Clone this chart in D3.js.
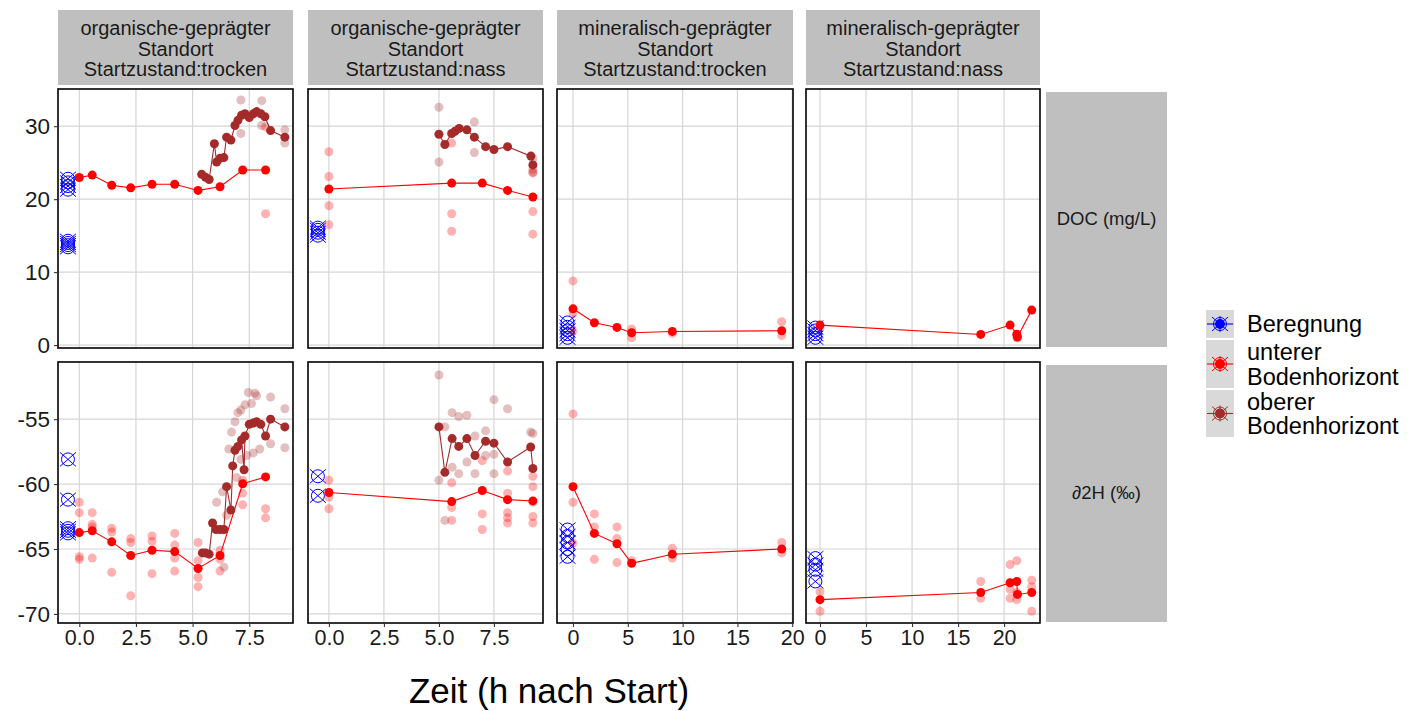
<!DOCTYPE html>
<html>
<head>
<meta charset="utf-8">
<script src="https://cdn.jsdelivr.net/npm/d3@7"></script>
<style>
  html, body { margin: 0; padding: 0; background: #fff; }
  text { font-family: "Liberation Sans", Arial, sans-serif; }
</style>
</head>
<body>
<svg id="chart" width="1421" height="711"></svg>
<script>
// ---------------- DATA ----------------
const facetCols = [
  ["organische-geprägter", "Standort", "Startzustand:trocken"],
  ["organische-geprägter", "Standort", "Startzustand:nass"],
  ["mineralisch-geprägter", "Standort", "Startzustand:trocken"],
  ["mineralisch-geprägter", "Standort", "Startzustand:nass"]
];
const facetRows = ["DOC (mg/L)", "∂2H (‰)"];
const xTickValues = [[0, 2.5, 5, 7.5], [0, 2.5, 5, 7.5], [0, 5, 10, 15, 20], [0, 5, 10, 15, 20]];
const xTickLabels = [["0.0", "2.5", "5.0", "7.5"], ["0.0", "2.5", "5.0", "7.5"], ["0", "5", "10", "15", "20"], ["0", "5", "10", "15", "20"]];
const yTickValues = [[0, 10, 20, 30], [-70, -65, -60, -55]];
const yTickLabels = [["0", "10", "20", "30"], ["-70", "-65", "-60", "-55"]];
const legendLabels = [["Beregnung"], ["unterer", "Bodenhorizont"], ["oberer", "Bodenhorizont"]];
const xTitle = "Zeit (h nach Start)";

// Beregnung (irrigation water) sampled at time -0.5
const beregnungZeit = -0.5;
const beregnungDOC = [
  [21.3, 21.8, 22.3, 22.8, 13.4, 13.7, 14.0, 14.3],
  [15.0, 15.4, 15.8, 16.1],
  [1.0, 1.5, 2.0, 2.5, 3.1],
  [1.0, 1.5, 2.0, 2.4]
];
const beregnungH = [
  [-58.1, -61.2, -63.4, -63.6, -63.8],
  [-59.4, -60.9],
  [-63.5, -64.0, -64.5, -65.0, -65.6],
  [-65.7, -66.2, -66.6, -67.5]
];

// unterer Bodenhorizont: mean series [time, value]
const unterMeanDOC = [
  [[0, 22.97], [0.57, 23.3], [1.43, 21.9], [2.27, 21.55], [3.21, 22.05], [4.21, 22.05], [5.24, 21.2], [6.21, 21.7], [7.21, 24.0], [8.22, 24.0]],
  [[0, 21.4], [5.58, 22.2], [6.97, 22.2], [8.12, 21.2], [9.27, 20.3]],
  [[0, 4.97], [1.95, 3.06], [4.01, 2.42], [5.35, 1.69], [9.06, 1.87], [19.04, 1.97]],
  [[0, 2.74], [17.46, 1.46], [20.65, 2.74], [21.38, 1.5], [21.45, 1.1], [23.0, 4.8]]
];
const unterRawDOC = [
  [[8.22, 18.0], [8.22, 29.9]],
  [[0, 26.5], [0, 23.1], [0, 19.1], [0, 16.5], [5.58, 18.0], [5.58, 15.6], [5.58, 27.7], [9.27, 24.1], [9.27, 23.6], [9.27, 18.3], [9.27, 15.2]],
  [[0, 8.8], [0, 4.3], [0, 1.9], [5.35, 2.2], [5.35, 1.0], [9.06, 1.6], [19.04, 3.2], [19.04, 1.3]],
  [[0, 2.4], [21.4, 1.0], [21.38, 1.3]]
];
const unterMeanH = [
  [[0, -63.74], [0.57, -63.6], [1.43, -64.45], [2.27, -65.5], [3.21, -65.1], [4.21, -65.2], [5.24, -66.5], [6.21, -65.5], [7.21, -59.98], [8.22, -59.45]],
  [[0, -60.65], [5.58, -61.35], [6.97, -60.5], [8.12, -61.2], [9.27, -61.3]],
  [[0, -60.2], [1.95, -63.8], [4.01, -64.6], [5.35, -66.1], [9.06, -65.4], [19.04, -65.0]],
  [[0, -68.9], [17.46, -68.35], [20.65, -67.6], [21.38, -67.5], [21.45, -68.5], [23.0, -68.35]]
];
const unterRawH = [
  [[0, -61.4], [0, -62.2], [0, -65.6], [0, -65.8], [0.57, -62.2], [0.57, -63.1], [0.57, -63.3], [0.57, -65.7], [1.43, -63.4], [1.43, -63.7], [1.43, -66.8],
   [2.27, -64.2], [2.27, -64.5], [2.27, -68.6], [3.21, -64.0], [3.21, -64.4], [3.21, -66.9], [4.21, -63.8], [4.21, -64.7], [4.21, -65.7], [4.21, -66.7],
   [5.24, -64.5], [5.24, -67.2], [5.24, -67.9], [5.24, -65.9], [6.21, -65.1], [6.21, -66.7], [6.21, -65.8], [7.21, -59.7], [7.21, -60.7], [7.21, -61.6],
   [8.22, -61.9], [8.22, -62.6]],
  [[0, -59.7], [0, -61.9], [0, -61.0], [5.58, -59.9], [5.58, -61.8], [5.58, -62.8], [6.97, -58.2], [6.97, -62.3], [6.97, -63.5], [8.12, -59.0], [8.12, -60.7],
   [8.12, -62.2], [8.12, -62.6], [8.12, -63.0], [9.27, -59.4], [9.27, -60.2], [9.27, -62.5], [9.27, -63.0]],
  [[0, -54.6], [0, -61.4], [0, -64.55], [1.95, -62.3], [1.95, -63.3], [1.95, -65.8], [4.01, -63.3], [4.01, -64.2], [4.01, -66.05], [5.35, -65.9],
   [9.06, -64.95], [9.06, -65.7], [19.04, -64.5], [19.04, -65.3]],
  [[0, -68.3], [0, -69.8], [17.46, -67.5], [17.46, -68.8], [20.65, -66.2], [20.65, -68.1], [20.65, -68.8], [21.38, -65.9], [21.38, -68.35], [21.38, -68.9],
   [23.0, -67.4], [23.0, -67.9], [23.0, -69.8]]
];

// oberer Bodenhorizont
const oberMeanDOC = [
  [[5.40, 23.4], [5.57, 23.0], [5.73, 22.7], [5.96, 27.6], [6.06, 25.1], [6.21, 25.6], [6.38, 25.7], [6.50, 28.5], [6.69, 28.1], [6.87, 30.1], [7.0, 30.8],
   [7.16, 31.5], [7.31, 31.7], [7.5, 31.2], [7.68, 31.7], [7.82, 32.0], [8.01, 31.7], [8.19, 31.3], [8.44, 29.4], [9.07, 28.5]],
  [[5.0, 28.9], [5.27, 27.5], [5.58, 29.0], [5.73, 29.3], [5.92, 29.7], [6.27, 29.5], [6.61, 28.5], [7.12, 27.2], [7.5, 26.8], [8.12, 27.2], [9.18, 25.9], [9.27, 24.7]],
  [],
  []
];
const oberRawDOC = [
  [[7.13, 33.6], [7.13, 29.0], [8.05, 33.5], [8.05, 30.1], [9.07, 29.5], [9.07, 27.7]],
  [[5.0, 32.6], [5.0, 25.1], [6.61, 30.6], [6.61, 26.4], [9.27, 25.6], [9.27, 23.7]],
  [],
  []
];
const oberMeanH = [
  [[5.43, -65.3], [5.57, -65.3], [5.73, -65.4], [5.88, -63.0], [6.03, -63.5], [6.21, -63.5], [6.38, -63.5], [6.50, -60.2], [6.69, -62.0], [6.77, -58.6],
   [6.87, -57.4], [7.0, -57.1], [7.16, -56.6], [7.27, -58.9], [7.31, -56.3], [7.5, -55.4], [7.68, -55.3], [7.82, -55.2], [8.01, -55.4], [8.22, -56.3],
   [8.44, -55.0], [9.07, -55.6]],
  [[5.0, -55.6], [5.27, -59.1], [5.6, -56.5], [5.9, -57.1], [6.27, -56.5], [6.64, -57.8], [7.12, -56.7], [7.5, -56.85], [8.12, -58.3], [9.17, -57.15], [9.27, -58.8]],
  [],
  []
];
const oberRawH = [
  [[6.06, -61.4], [6.32, -60.6], [6.5, -62.4], [6.38, -66.4], [6.72, -56.0], [6.87, -55.2], [7.0, -54.5], [7.13, -54.3], [7.31, -53.9], [7.46, -52.95],
   [7.6, -53.8], [7.75, -53.0], [7.82, -53.2], [8.44, -53.3], [9.07, -54.2], [9.07, -57.2], [8.44, -56.9], [7.13, -58.1], [7.4, -57.8], [7.68, -57.6],
   [7.96, -57.3], [6.94, -59.5], [6.6, -57.3]],
  [[5.0, -51.6], [5.0, -59.7], [5.27, -55.6], [5.27, -62.8], [5.6, -54.5], [5.6, -58.7], [5.9, -54.8], [5.9, -59.2], [6.27, -54.7], [6.27, -58.3],
   [6.64, -56.3], [6.64, -59.2], [7.12, -55.9], [7.12, -57.8], [7.5, -53.5], [7.5, -57.7], [7.5, -59.2], [8.12, -54.2], [9.17, -56.0], [9.27, -56.1], [9.27, -61.4]],
  [],
  []
];

// ---------------- LAYOUT ----------------
const colX = [[58, 293], [308, 543], [557, 793], [806, 1040]];
const rowY = [[89, 348], [362, 623]];
const xDomains = [[-0.94, 9.43], [-0.95, 9.73], [-1.46, 20.07], [-1.52, 23.9]];
const yDomains = [[-0.4, 35.1], [-70.7, -50.6]];

const COL_BLUE = "#0000FF", COL_RED = "#FF0000", COL_BROWN = "#A52A2A";
const svg = d3.select("#chart");

const beregnung = [beregnungDOC, beregnungH];
const unterMean = [unterMeanDOC, unterMeanH];
const unterRaw = [unterRawDOC, unterRawH];
const oberMean = [oberMeanDOC, oberMeanH];
const oberRaw = [oberRawDOC, oberRawH];

function crossCircle(g, x, y, color, s) {
  s = s || 1;
  g.append("circle").attr("cx", x).attr("cy", y).attr("r", 6.5 * s)
    .attr("fill", "none").attr("stroke", color).attr("stroke-width", 1);
  g.append("line").attr("x1", x - 8 * s).attr("y1", y - 7 * s).attr("x2", x + 8 * s).attr("y2", y + 7 * s)
    .attr("stroke", color).attr("stroke-width", 1);
  g.append("line").attr("x1", x - 8 * s).attr("y1", y + 7 * s).attr("x2", x + 8 * s).attr("y2", y - 7 * s)
    .attr("stroke", color).attr("stroke-width", 1);
}

for (let r = 0; r < 2; r++) {
  for (let c = 0; c < 4; c++) {
    const [x0, x1] = colX[c];
    const [y0, y1] = rowY[r];
    const xs = d3.scaleLinear().domain(xDomains[c]).range([x0, x1]);
    const ys = d3.scaleLinear().domain(yDomains[r]).range([y1, y0]);
    const g = svg.append("g");
    const clipId = `clip-${r}-${c}`;
    svg.append("clipPath").attr("id", clipId).append("rect")
      .attr("x", x0).attr("y", y0).attr("width", x1 - x0).attr("height", y1 - y0);

    // background & grid
    g.append("rect").attr("x", x0).attr("y", y0).attr("width", x1 - x0).attr("height", y1 - y0).attr("fill", "#fff");
    g.selectAll(".vg").data(xTickValues[c]).enter().append("line")
      .attr("x1", d => xs(d)).attr("x2", d => xs(d)).attr("y1", y0).attr("y2", y1)
      .attr("stroke", "#d6d6d6").attr("stroke-width", 1.2);
    g.selectAll(".hg").data(yTickValues[r]).enter().append("line")
      .attr("y1", d => ys(d)).attr("y2", d => ys(d)).attr("x1", x0).attr("x2", x1)
      .attr("stroke", "#d6d6d6").attr("stroke-width", 1.2);

    const pg = g.append("g").attr("clip-path", `url(#${clipId})`);
    // beregnung symbols
    beregnung[r][c].forEach(v => crossCircle(pg, xs(beregnungZeit), ys(v), COL_BLUE));
    // raw faded points
    pg.selectAll(".ur").data(unterRaw[r][c]).enter().append("circle")
      .attr("cx", d => xs(d[0])).attr("cy", d => ys(d[1])).attr("r", 4.5)
      .attr("fill", COL_RED).attr("fill-opacity", 0.3);
    pg.selectAll(".or").data(oberRaw[r][c]).enter().append("circle")
      .attr("cx", d => xs(d[0])).attr("cy", d => ys(d[1])).attr("r", 4.5)
      .attr("fill", COL_BROWN).attr("fill-opacity", 0.3);
    const line = d3.line().x(d => xs(d[0])).y(d => ys(d[1]));
    // lines
    if (unterMean[r][c].length) pg.append("path").attr("d", line(unterMean[r][c]))
      .attr("fill", "none").attr("stroke", COL_RED).attr("stroke-width", 1.1);
    if (oberMean[r][c].length) pg.append("path").attr("d", line(oberMean[r][c]))
      .attr("fill", "none").attr("stroke", COL_BROWN).attr("stroke-width", 1.1);
    // mean points
    pg.selectAll(".um").data(unterMean[r][c]).enter().append("circle")
      .attr("cx", d => xs(d[0])).attr("cy", d => ys(d[1])).attr("r", 4.5).attr("fill", COL_RED);
    pg.selectAll(".om").data(oberMean[r][c]).enter().append("circle")
      .attr("cx", d => xs(d[0])).attr("cy", d => ys(d[1])).attr("r", 4.5).attr("fill", COL_BROWN);

    // border
    g.append("rect").attr("x", x0).attr("y", y0).attr("width", x1 - x0).attr("height", y1 - y0)
      .attr("fill", "none").attr("stroke", "#000").attr("stroke-width", 1.6);

    // y axis (first column)
    if (c === 0) {
      const ax = d3.axisLeft(ys).tickValues(yTickValues[r]).tickFormat((d, i) => yTickLabels[r][i]).tickSize(4).tickPadding(4);
      const ag = svg.append("g").attr("transform", `translate(${x0},0)`).call(ax);
      ag.select(".domain").remove();
      ag.selectAll(".tick line").attr("stroke", "#333").attr("stroke-width", 1.1);
      ag.selectAll(".tick text").attr("font-size", 22.5).attr("fill", "#1a1a1a")
        .attr("font-family", "Liberation Sans, Arial, sans-serif");
    }
    // x axis (bottom row)
    if (r === 1) {
      const ax = d3.axisBottom(xs).tickValues(xTickValues[c]).tickFormat((d, i) => xTickLabels[c][i]).tickSize(4).tickPadding(3);
      const ag = svg.append("g").attr("transform", `translate(0,${y1})`).call(ax);
      ag.select(".domain").remove();
      ag.selectAll(".tick line").attr("stroke", "#333").attr("stroke-width", 1.1);
      ag.selectAll(".tick text").attr("font-size", 21.5).attr("fill", "#1a1a1a")
        .attr("font-family", "Liberation Sans, Arial, sans-serif");
    }
  }
}

// top strips
facetCols.forEach((lines, c) => {
  const [x0, x1] = colX[c];
  svg.append("rect").attr("x", x0).attr("y", 10).attr("width", x1 - x0).attr("height", 75).attr("fill", "#bfbfbf");
  const t = svg.append("text").attr("x", (x0 + x1) / 2).attr("text-anchor", "middle")
    .attr("font-size", 20).attr("fill", "#1a1a1a");
  lines.forEach((s, i) => t.append("tspan").attr("x", (x0 + x1) / 2).attr("y", 35 + i * 20.5).text(s));
});
// right strips
facetRows.forEach((s, r) => {
  const [y0, y1] = rowY[r];
  svg.append("rect").attr("x", 1046).attr("y", y0 + 3).attr("width", 121).attr("height", y1 - y0 - 4).attr("fill", "#bfbfbf");
  svg.append("text").attr("x", 1106.5).attr("y", (y0 + y1) / 2 + 6).attr("text-anchor", "middle")
    .attr("font-size", 18.5).attr("fill", "#1a1a1a").text(s);
});

// x axis title
svg.append("text").attr("x", 549).attr("y", 703).attr("text-anchor", "middle")
  .attr("font-size", 35).attr("fill", "#000").text(xTitle);

// legend
const legColors = [COL_BLUE, COL_RED, COL_BROWN];
const legBoxes = [[310, 338], [340, 388], [390, 437]];
legendLabels.forEach((lines, i) => {
  const [ky0, ky1] = legBoxes[i];
  const cy = (ky0 + ky1) / 2, cx = 1220;
  const col = legColors[i];
  svg.append("rect").attr("x", 1206).attr("y", ky0).attr("width", 28).attr("height", ky1 - ky0).attr("fill", "#d9d9d9");
  const lg = svg.append("g");
  lg.append("line").attr("x1", 1207).attr("x2", 1233).attr("y1", cy).attr("y2", cy).attr("stroke", col).attr("stroke-width", 1.1);
  crossCircle(lg, cx, cy, col, 1);
  lg.append("line").attr("x1", cx).attr("x2", cx).attr("y1", cy - 8).attr("y2", cy + 8).attr("stroke", col).attr("stroke-width", 1);
  lg.append("circle").attr("cx", cx).attr("cy", cy).attr("r", 5).attr("fill", col);
  const t = svg.append("text").attr("font-size", 23.5).attr("fill", "#000");
  const startY = lines.length === 1 ? cy + 8 : cy - 4;
  lines.forEach((s, j) => t.append("tspan").attr("x", 1247).attr("y", startY + j * 24.5).text(s));
});
</script>
</body>
</html>
